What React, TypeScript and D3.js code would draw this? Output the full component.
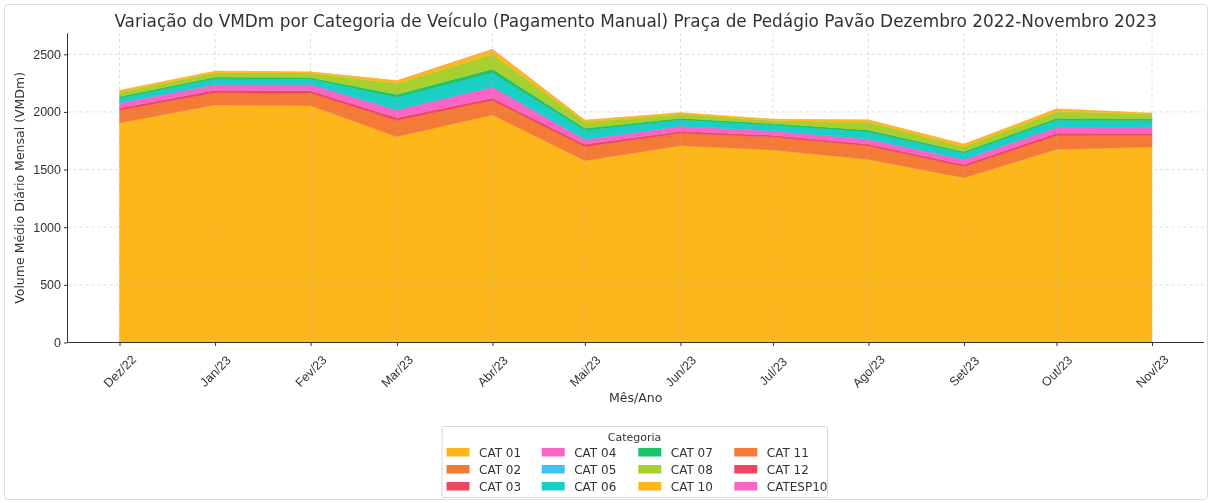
import { useEffect, useRef } from 'react'
import * as d3 from 'd3'

// months (first day of each month) and their tick labels
const months = [
  new Date(2022, 11, 1), new Date(2023, 0, 1), new Date(2023, 1, 1), new Date(2023, 2, 1),
  new Date(2023, 3, 1), new Date(2023, 4, 1), new Date(2023, 5, 1), new Date(2023, 6, 1),
  new Date(2023, 7, 1), new Date(2023, 8, 1), new Date(2023, 9, 1), new Date(2023, 10, 1),
]
const monthLabels = ['Dez/22', 'Jan/23', 'Fev/23', 'Mar/23', 'Abr/23', 'Mai/23', 'Jun/23', 'Jul/23', 'Ago/23', 'Set/23', 'Out/23', 'Nov/23']

const categories = ['CAT 01', 'CAT 02', 'CAT 03', 'CAT 04', 'CAT 05', 'CAT 06', 'CAT 07', 'CAT 08', 'CAT 10', 'CAT 11', 'CAT 12', 'CATESP10']

// VMDm per category, one value per month
const cat01 = [1905, 2060, 2054, 1785, 1973, 1577, 1707, 1670, 1588, 1429, 1675, 1695]
const cat02 = [110, 107, 107, 140, 126, 121, 107, 112, 116, 95, 119, 105]
const cat03 = [18, 22, 22, 25, 21, 21, 18, 15, 17, 21, 20, 16]
const cat04 = [45, 50, 56, 68, 98, 43, 46, 40, 44, 44, 52, 54]
const cat05 = [1, 1, 1, 1, 1, 1, 1, 1, 1, 1, 1, 1]
const cat06 = [38, 48, 44, 106, 118, 75, 52, 47, 58, 52, 58, 52]
const cat07 = [16, 14, 14, 27, 35, 21, 14, 14, 20, 14, 20, 18]
const cat08 = [38, 38, 40, 95, 128, 54, 38, 26, 67, 43, 58, 40]
const cat10 = [15, 14, 9, 24, 42, 15, 11, 12, 20, 21, 23, 9]
const cat11 = [1, 1, 1, 1, 1, 1, 1, 1, 1, 1, 1, 1]
const cat12 = [0, 0, 0, 0, 1, 0, 0, 0, 0, 0, 0, 0]
const catEsp10 = [0, 0, 0, 1, 2, 0, 0, 0, 0, 0, 0, 0]

const series = [cat01, cat02, cat03, cat04, cat05, cat06, cat07, cat08, cat10, cat11, cat12, catEsp10]
const yTicks = [0, 500, 1000, 1500, 2000, 2500]

const palette = ['#FDB71B', '#F47B36', '#F0455F', '#F766C6', '#3CC2F7', '#1ACFC6', '#1BC46A', '#A6CF2F']

export default function App() {
  const ref = useRef<SVGSVGElement>(null)

  useEffect(() => {
    const width = 1212
    const height = 503
    const svg = d3.select(ref.current)
    svg.selectAll('*').remove()
    svg.attr('width', width).attr('height', height).style('font-family', 'DejaVu Sans, sans-serif')

    svg.append('rect')
      .attr('x', 4.5).attr('y', 4.5).attr('width', 1203).attr('height', 495).attr('rx', 4)
      .attr('fill', '#fff').attr('stroke', '#dcdcdc')

    const left = 67.5, right = 1204, top = 33.3, bottom = 342.5
    const x = d3.scaleTime().domain([months[0], months[months.length - 1]]).range([119.5, 1152])
    const y = d3.scaleLinear().domain([0, 2682]).range([bottom, top])

    const table = months.map((m, i) => {
      const row: any = { date: m }
      categories.forEach((c, k) => { row[c] = series[k][i] })
      return row
    })
    const stacked = d3.stack().keys(categories)(table)
    const color = d3.scaleOrdinal<string>().domain(categories).range(categories.map((_, i) => palette[i % palette.length]))

    const area = d3.area<any>()
      .x(d => x(d.data.date))
      .y0(d => y(d[0]))
      .y1(d => y(d[1]))

    // thin edge strokes only on the main layers, so the near-empty ones don't draw a line on top
    svg.append('g').selectAll('path').data(stacked).enter().append('path')
      .attr('d', area)
      .attr('fill', d => color(d.key))
      .attr('stroke', (d, i) => (i < 9 ? color(d.key) : 'none'))
      .attr('stroke-width', 0.4)

    // grid
    const grid = svg.append('g').attr('stroke', '#b0b0b0').attr('stroke-dasharray', '3,3').attr('stroke-width', 0.8).attr('opacity', 0.55)
    grid.selectAll('line.v').data(months).enter().append('line')
      .attr('x1', d => x(d)).attr('x2', d => x(d)).attr('y1', top).attr('y2', bottom)
    grid.selectAll('line.h').data(yTicks).enter().append('line')
      .attr('x1', left).attr('x2', right).attr('y1', d => y(d)).attr('y2', d => y(d))

    // axes
    const xAxis = svg.append('g').attr('transform', `translate(0,${bottom})`)
      .call(d3.axisBottom(x).tickValues(months).tickFormat((_, i) => monthLabels[i]).tickSize(3.5).tickSizeOuter(0))
    xAxis.select('.domain').attr('d', `M${left},0H${right}`).attr('stroke', '#333')
    xAxis.selectAll('.tick line').attr('stroke', '#333')
    xAxis.selectAll('.tick text')
      .attr('fill', '#333').style('font-size', '12.5px')
      .attr('text-anchor', 'middle').attr('dy', null).attr('dominant-baseline', 'central')
      .attr('y', 29).attr('transform', 'rotate(-45,0,29)')

    const yAxis = svg.append('g').attr('transform', `translate(${left},0)`)
      .call(d3.axisLeft(y).tickValues(yTicks).tickFormat(d3.format('d')).tickSize(3.5).tickSizeOuter(0))
    yAxis.select('.domain').attr('d', `M0,${top}V${bottom}`).attr('stroke', '#333')
    yAxis.selectAll('.tick line').attr('stroke', '#333')
    yAxis.selectAll('.tick text').attr('fill', '#333').style('font-size', '12.5px')

    svg.append('text')
      .attr('x', (left + right) / 2).attr('y', 26.5).attr('text-anchor', 'middle')
      .style('font-size', '16.9px').attr('fill', '#333')
      .text('Variação do VMDm por Categoria de Veículo (Pagamento Manual) Praça de Pedágio Pavão Dezembro 2022-Novembro 2023')

    svg.append('text')
      .attr('x', (left + right) / 2).attr('y', 402).attr('text-anchor', 'middle')
      .style('font-size', '12.5px').attr('fill', '#333').text('Mês/Ano')

    svg.append('text')
      .attr('transform', `translate(24,${(top + bottom) / 2}) rotate(-90)`).attr('text-anchor', 'middle')
      .style('font-size', '12.5px').attr('fill', '#333').text('Volume Médio Diário Mensal (VMDm)')

    // Legend
    const legend = svg.append('g')
    legend.append('rect')
      .attr('x', 442).attr('y', 426.5).attr('width', 385.5).attr('height', 71).attr('rx', 2)
      .attr('fill', '#fff').attr('stroke', '#d8d8d8')
    legend.append('text')
      .attr('x', 634.5).attr('y', 440.5).attr('text-anchor', 'middle')
      .style('font-size', '11px').attr('fill', '#333').text('Categoria')
    const colX = [446.5, 541.7, 638.3, 734.3]
    const rowY = [452.5, 469.5, 486.5]
    const items = legend.selectAll('g.item').data(categories).enter().append('g')
      .attr('class', 'item')
      .attr('transform', (d, i) => `translate(${colX[Math.floor(i / 3)]},${rowY[i % 3]})`)
    items.append('rect')
      .attr('x', 0).attr('y', -4.5).attr('width', 23).attr('height', 8.5)
      .attr('fill', d => color(d))
    items.append('text')
      .attr('x', 32.5).attr('y', 4.5).text(d => d)
      .style('font-size', '12px').attr('fill', '#333')
  }, [])

  return <svg ref={ref} style={{ position: 'fixed', left: 0, top: 0 }} />
}
